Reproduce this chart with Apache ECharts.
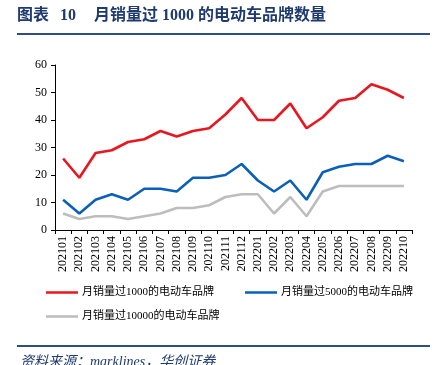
<!DOCTYPE html>
<html><head><meta charset="utf-8">
<script src="https://cdn.jsdelivr.net/npm/echarts@6/dist/echarts.min.js"></script>
<style>html,body{margin:0;padding:0;background:#fff}#c{width:440px;height:365px}</style>
</head><body><div id="c"></div>
<script>
const categories = ['202101','202102','202103','202104','202105','202106','202107','202108','202109','202110','202111','202112','202201','202202','202203','202204','202205','202206','202207','202208','202209','202210'];
const over1000 = [26,19,28,29,32,33,36,34,36,37,42,48,40,40,46,37,41,47,48,53,51,48];
const over5000 = [11,6,11,13,11,15,15,14,19,19,20,24,18,14,18,11,21,23,24,24,27,25];
const over10000 = [6,4,5,5,4,5,6,8,8,9,12,13,13,6,12,5,14,16,16,16,16,16];
const names = ['月销量过1000的电动车品牌','月销量过5000的电动车品牌','月销量过10000的电动车品牌'];
const yTicks = [0,10,20,30,40,50,60];

const serif = '"Liberation Serif","Noto Sans CJK SC",serif';
const chart = echarts.init(document.getElementById('c'));
const mk = (name, data, color) => ({
  name, type:'line', data, symbol:'none', smooth:false,
  lineStyle:{color, width:2.6}, itemStyle:{color}
});
const leg = (name, left, top) => ({
  data:[name], left, top, padding:0, itemWidth:32, itemHeight:10,
  icon:'path://M0,4 L32,4 L32,6.5 L0,6.5 Z',
  textStyle:{fontFamily:serif, fontSize:11, color:'#000', padding:[0,0,0,-1]}
});
const titleFont = 'bold 16px "Liberation Serif","Noto Sans CJK SC", serif';
chart.setOption({
  animation:false,
  backgroundColor:'#fff',
  grid:{left:55, right:28, top:65, bottom:135},
  xAxis:{type:'category', data:categories, boundaryGap:true,
    axisLine:{lineStyle:{color:'#000', width:1}},
    axisTick:{show:true, alignWithLabel:false, length:4, lineStyle:{color:'#000'}},
    axisLabel:{rotate:90, interval:0, fontFamily:serif, fontSize:12, color:'#000', margin:6}},
  yAxis:{type:'value', min:yTicks[0], max:yTicks[yTicks.length-1], interval:10,
    splitLine:{show:false},
    axisLine:{show:true, lineStyle:{color:'#000', width:1}},
    axisTick:{show:true, length:4, lineStyle:{color:'#000'}},
    axisLabel:{fontFamily:serif, fontSize:12, color:'#000', margin:8}},
  legend:[
    leg(names[0], 46, 287),
    leg(names[1], 245, 287),
    leg(names[2], 46, 311)
  ],
  graphic:[
    {type:'text', left:17, top:8, style:{text:'图表', font:titleFont, fill:'#1F3A6E'}},
    {type:'text', left:60, top:8, style:{text:'10', font:titleFont, fill:'#1F3A6E'}},
    {type:'text', left:94, top:8, style:{text:'月销量过 1000 的电动车品牌数量', font:titleFont, fill:'#1F3A6E'}},
    {type:'line', shape:{x1:17,y1:34,x2:430,y2:34}, style:{stroke:'#2B4E85', lineWidth:2}},
    {type:'line', shape:{x1:17,y1:346,x2:430,y2:346}, style:{stroke:'#2B4E85', lineWidth:2}},
    {type:'text', left:20, top:355, style:{text:'资料来源：marklines，华创证券', font:'italic 14px "Liberation Serif","Noto Sans CJK SC", serif', fill:'#1F3A6E'}}
  ],
  series:[
    mk(names[0], over1000, '#E8161E'),
    mk(names[1], over5000, '#0A60B8'),
    mk(names[2], over10000, '#BDBDBD')
  ]
});
</script></body></html>
